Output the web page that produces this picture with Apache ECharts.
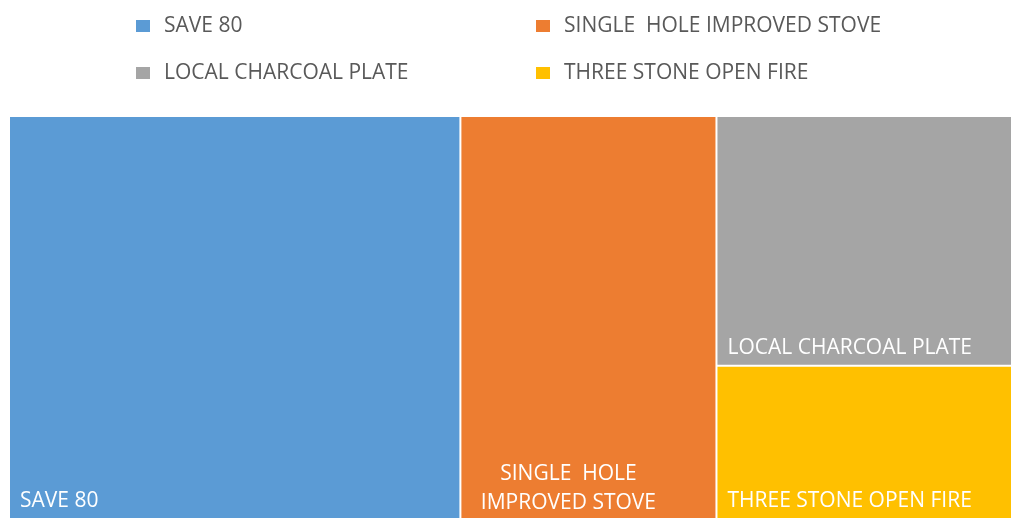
<!DOCTYPE html>
<html>
<head>
<meta charset="utf-8">
<script src="https://cdn.jsdelivr.net/npm/echarts@6/dist/echarts.min.js"></script>
<style>
html,body{margin:0;padding:0;background:#fff}
#main{width:1011px;height:518px}
</style>
</head>
<body>
<div id="main"></div>
<script>
// 数据
var names = ['SAVE 80', 'SINGLE  HOLE IMPROVED STOVE', 'LOCAL CHARCOAL PLATE', 'THREE STONE OPEN FIRE'];
var values = [44.6, 25.3, 18.1, 11.1];
var colors = ['#5B9BD5', '#ED7D31', '#A5A5A5', '#FFC000'];
// legend 位置 [left, top]
var legendPos = [[136, 13], [536, 13], [136, 60], [536, 60]];

var fontFam = '"Open Sans", Lato, sans-serif';

var treeData = [];
for (var i = 0; i < names.length; i++) {
	var item = {
		name: names[i],
		value: values[i],
		itemStyle: { color: colors[i] }
	};
	if (names[i].indexOf('HOLE') > -1) {
		// 两行, 行间居中
		item.label = {
			show: true,
			position: 'insideBottom',
			align: 'center',
			distance: 0,
			padding: [0, 40, 0, 0],
			color: '#fff',
			fontSize: 21,
			lineHeight: 29,
			fontFamily: fontFam
		};
	}
	treeData.push(item);
}

var legends = [];
for (var j = 0; j < names.length; j++) {
	legends.push({
		data: [names[j]],
		left: legendPos[j][0],
		top: legendPos[j][1],
		padding: 0,
		icon: 'rect',
		itemWidth: 14,
		itemHeight: 12,
		selectedMode: false,
		textStyle: {
			color: '#595959',
			fontSize: 21,
			lineHeight: 26,
			fontFamily: fontFam,
			padding: [0, 0, 0, 9]
		}
	});
}

var chart = echarts.init(document.getElementById('main'));
var option = {
	animation: false,
	legend: legends,
	series: [{
		type: 'treemap',
		left: 10,
		top: 117,
		right: 0,
		bottom: 0,
		roam: false,
		nodeClick: false,
		squareRatio: 1,
		breadcrumb: { show: false },
		itemStyle: { borderWidth: 0, gapWidth: 2 },
		levels: [{ itemStyle: { borderWidth: 0, gapWidth: 2 } }],
		label: {
			show: true,
			position: 'insideBottomLeft',
			distance: 0,
			padding: [0, 0, 6, 10],
			color: '#fff',
			fontSize: 21,
			fontFamily: fontFam,
			formatter: function (p) {
				// 长名称分两行
				if (p.name.indexOf('HOLE') > -1) {
					return 'SINGLE  HOLE\nIMPROVED STOVE';
				}
				return p.name;
			}
		},
		emphasis: { disabled: true },
		data: treeData
	}, {
		// 仅用于图例
		type: 'pie',
		radius: [0, 0],
		center: [-100, -100],
		silent: true,
		label: { show: false },
		labelLine: { show: false },
		data: names.map(function (n, k) {
			return { name: n, value: values[k], itemStyle: { color: colors[k] } };
		})
	}]
};
chart.setOption(option);
</script>
</body>
</html>
